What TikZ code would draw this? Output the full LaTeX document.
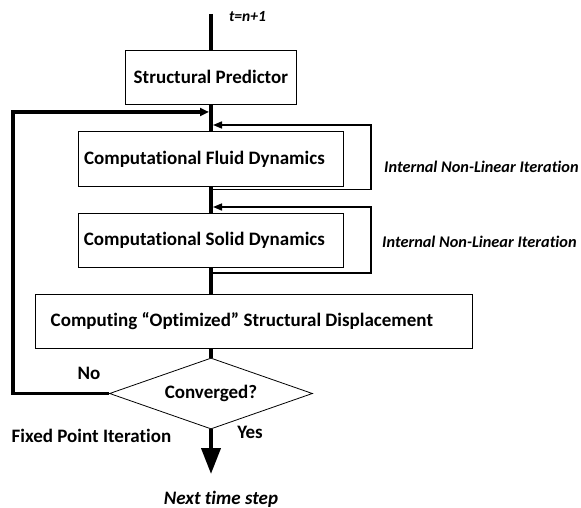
\documentclass[tikz,border=0pt]{standalone}
\usepackage{fontspec}
\setmainfont{Carlito}[Ligatures=NoCommon]
\usetikzlibrary{shapes.geometric,arrows.meta}
\begin{document}
\begin{tikzpicture}[x=1pt,y=-1pt,
  font=\bfseries\fontsize{19}{22}\selectfont,
  box/.style={draw,line width=0.8pt,fill=white,inner sep=0pt,anchor=north west},
  spine/.style={line width=4pt},
  loopline/.style={line width=1.6pt},
  looptip/.style={-{Triangle[length=9pt,width=7pt]}},
  lbl/.style={inner sep=0pt},
  itl/.style={inner sep=0pt,font=\bfseries\itshape\fontsize{16.3}{19}\selectfont}]
\useasboundingbox (0,0) rectangle (581,508);

% process boxes (trailing space nudges the text a little to the left)
\node[box,minimum width=171pt,minimum height=54pt] (sp) at (125,50) {Structural Predictor};
\node[box,minimum width=265pt,minimum height=55pt] (cfd) at (78,131) {Computational Fluid Dynamics\hspace*{13pt}};
\node[box,minimum width=265pt,minimum height=54pt] (csd) at (78,213) {Computational Solid Dynamics\hspace*{13pt}};
\node[box,minimum width=437pt,minimum height=54pt] (comp) at (35,294) {Computing “Optimized” Structural Displacement\hspace*{24pt}};
\node[draw,line width=0.8pt,diamond,aspect=3,inner sep=0pt,minimum width=203pt,minimum height=71pt] (conv) at (211,393.5) {Converged?};

% spine coordinates
\coordinate (top) at (211,14);
\coordinate (join) at (211,112);
\coordinate (end) at (211,474);
\coordinate (fl) at (13,393.5);

% main flow
\draw[spine] (top) -- (top |- sp.north);
\draw[spine] (top |- sp.south) -- (top |- cfd.north);
\draw[spine] (top |- cfd.south) -- (top |- csd.north);
\draw[spine] (top |- csd.south) -- (top |- comp.north);
\draw[spine] (top |- comp.south) -- (conv.north);
\draw[spine,-{Triangle[length=26pt,width=19pt]}] (conv.south) -- (end);

% fixed point iteration loop
\draw[line width=3.5pt,-{Triangle[length=9pt,width=8pt]},line join=miter] (conv.west) -- (fl) |- ([xshift=-2pt]join);

% internal non-linear iteration loops
\coordinate (a1) at (213,189.5);
\coordinate (a2) at (371,189.5);
\coordinate (a3) at (371,125);
\coordinate (a4) at (213,125);
\draw[loopline,looptip,line join=miter] (a1) -- (a2) -- (a3) -- (a4);
\coordinate (b1) at (213,273);
\coordinate (b2) at (371,273);
\coordinate (b3) at (371,207);
\coordinate (b4) at (213,207);
\draw[loopline,looptip,line join=miter] (b1) -- (b2) -- (b3) -- (b4);

% labels
\node[itl,font=\bfseries\itshape\fontsize{15.5}{18}\selectfont] (tn) at (247.5,17) {t=n+1};
\node[itl,anchor=west] (it1) at (384,167) {Internal Non-Linear Iteration};
\node[itl,anchor=west] (it2) at (382,242) {Internal Non-Linear Iteration};
\node[lbl] (no) at (89,373) {No};
\node[lbl] (yes) at (250,432) {Yes};
\node[lbl,anchor=west] (fpi) at (11.5,435.5) {Fixed Point Iteration};
\node[itl,font=\bfseries\itshape\fontsize{19}{22}\selectfont] (nts) at (221,499) {Next time step};
\end{tikzpicture}
\end{document}
